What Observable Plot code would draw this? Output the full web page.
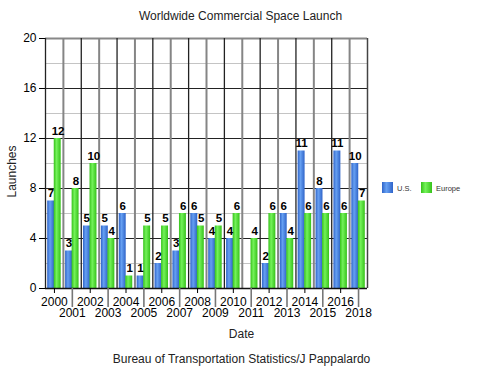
<!DOCTYPE html>
<html>
<head>
<meta charset="utf-8">
<script src="https://cdn.jsdelivr.net/npm/d3@7"></script>
<script src="https://cdn.jsdelivr.net/npm/@observablehq/plot@0.6"></script>
<style>
  html, body { margin: 0; padding: 0; background: white; }
</style>
</head>
<body>
<div id="chart"></div>
<script>
const years = ["2000","2001","2002","2003","2004","2005","2006","2007","2008","2009","2010","2011","2012","2013","2014","2015","2016","2018"];
const us =     [7, 3, 5, 5, 6, 1, 2, 3, 6, 4, 4, null, 2, 6, 11, 8, 11, 10];
const europe = [12, 8, 10, 4, 1, 5, 5, 6, 5, 5, 6, 4, 6, 4, 6, 6, 6, 7];
const yMajor = [0, 4, 8, 12, 16, 20];
const yMinor = [2, 6, 10, 14, 18];
const seriesNames = ["U.S.", "Europe"];
const title = "Worldwide Commercial Space Launch";
const xLabel = "Date";
const yLabel = "Launches";
const caption = "Bureau of Transportation Statistics/J Pappalardo";

const data = years.map((y, i) => ({year: y, us: us[i], europe: europe[i]}));

const W = 480, H = 370, mL = 45, mR = 113, mT = 38, mB = 82;
const bw = (W - mL - mR) / years.length;
const evenYears = years.filter((d, i) => i % 2 === 0);
const oddYears = years.filter((d, i) => i % 2 === 1);
const BLUE = "#4a86e8", GREEN = "#4ee03a";

const chart = Plot.plot({
  width: W, height: H,
  marginLeft: mL, marginRight: mR, marginTop: mT, marginBottom: mB,
  style: {fontFamily: "'Liberation Sans', Arial, sans-serif", background: "white", color: "black"},
  x: {domain: years, paddingInner: 0, paddingOuter: 0, round: false},
  y: {domain: [0, 20]},
  marks: [
    Plot.ruleY(yMinor, {stroke: "#c4c4c4", strokeWidth: 1}),
    Plot.ruleY(yMajor.filter(d => d > 0 && d < 20), {stroke: "#222", strokeWidth: 1.2}),
    Plot.ruleY([20], {stroke: "#888", strokeWidth: 2}),
    Plot.ruleX(oddYears, {x: d => d, dx: -bw / 2, stroke: "#858585", strokeWidth: 2}),
    Plot.ruleX(evenYears, {x: d => d, dx: -bw / 2, stroke: "#222", strokeWidth: 1.3}),
    Plot.ruleX([years[years.length - 1]], {x: d => d, dx: bw / 2, stroke: "#444", strokeWidth: 1.5}),
    Plot.barY(data.filter(d => d.us != null), {x: "year", y: "us", fill: BLUE, insetLeft: 2.2, insetRight: bw / 2 - 0.2}),
    Plot.barY(data, {x: "year", y: "europe", fill: GREEN, insetLeft: bw / 2 - 0.2, insetRight: 2.2}),
    Plot.text(data.filter(d => d.us != null), {x: "year", y: "us", text: d => String(d.us), dx: -3.4, dy: -4, lineAnchor: "bottom", fontSize: 11.5, fontWeight: "bold", fill: "black"}),
    Plot.text(data, {x: "year", y: "europe", text: d => String(d.europe), dx: 3.6, dy: -4, lineAnchor: "bottom", fontSize: 11.5, fontWeight: "bold", fill: "black"}),
    Plot.ruleY([0], {stroke: "#111", strokeWidth: 1.3}),
    Plot.axisY(yMajor, {tickSize: 6, tickPadding: 3, fontSize: 12, label: null}),
    Plot.axisX(evenYears, {tickSize: 5, tickPadding: 4, fontSize: 12, label: null}),
    Plot.axisX(oddYears, {tickSize: 19, tickPadding: 1, fontSize: 12, label: null, stroke: "#777", strokeWidth: 1.6, fill: "black"}),
    Plot.text([title], {frameAnchor: "top", dx: 34, dy: -27, fontSize: 12, fill: "#222"}),
    Plot.text([xLabel], {frameAnchor: "bottom", dx: 35, dy: 49, fontSize: 12, fill: "#222"}),
    Plot.text([caption], {frameAnchor: "bottom", dx: 35, dy: 74, fontSize: 12, fill: "#222"}),
    Plot.text([yLabel], {frameAnchor: "left", dx: -33, dy: 34, rotate: -90, fontSize: 12, fill: "#222"})
  ]
});

// gradients for cylinder-like bars
const svg = d3.select(chart);
const defs = svg.insert("defs", ":first-child");
function grad(id, dark, light) {
  const g = defs.append("linearGradient").attr("id", id).attr("x1", "0").attr("x2", "1").attr("y1", "0").attr("y2", "0");
  g.append("stop").attr("offset", "0%").attr("stop-color", dark);
  g.append("stop").attr("offset", "40%").attr("stop-color", light);
  g.append("stop").attr("offset", "100%").attr("stop-color", dark);
}
grad("gBlue", "#2f64c9", "#66a0f2");
grad("gGreen", "#36c21a", "#74f25a");
svg.selectAll(`g[fill="${BLUE}"]`).attr("fill", "url(#gBlue)");
svg.selectAll(`g[fill="${GREEN}"]`).attr("fill", "url(#gGreen)");

// legend
const leg = svg.append("g").attr("font-family", "'Liberation Sans', Arial, sans-serif").attr("font-size", 7.5).attr("text-anchor", "start");
const legItems = [{name: seriesNames[0], fill: "url(#gBlue)", x: 382}, {name: seriesNames[1], fill: "url(#gGreen)", x: 421}];
legItems.forEach(it => {
  leg.append("rect").attr("x", it.x).attr("y", 182).attr("width", 11).attr("height", 11).attr("fill", it.fill);
  leg.append("text").attr("x", it.x + 15).attr("y", 190.5).attr("fill", "#333").text(it.name);
});

document.getElementById("chart").appendChild(chart);
</script>
</body>
</html>
